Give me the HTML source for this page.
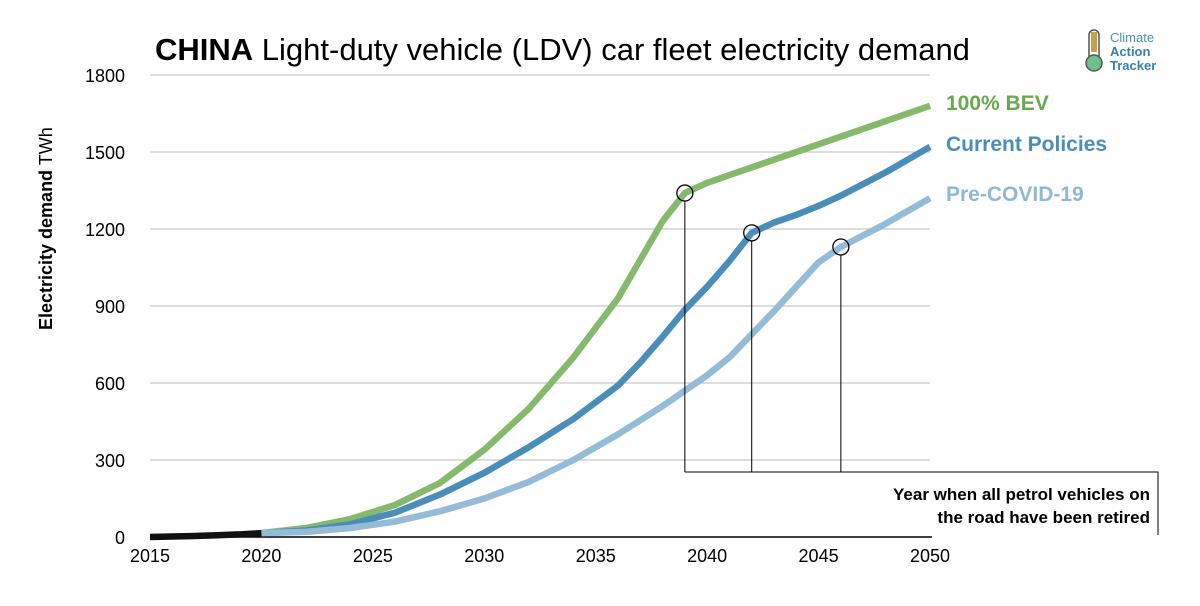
<!DOCTYPE html>
<html><head><meta charset="utf-8"><style>
body{margin:0;background:#fff;font-family:"Liberation Sans","DejaVu Sans",sans-serif}
</style></head><body>
<svg id="chart" width="1200" height="601" viewBox="0 0 1200 601" xmlns="http://www.w3.org/2000/svg">
<text x="155" y="60" font-size="31" fill="#000"><tspan font-weight="bold">CHINA</tspan> Light-duty vehicle (LDV) car fleet electricity demand</text>
<g>
<rect x="1089" y="30" width="10" height="36" rx="5" fill="#fff" stroke="#555" stroke-width="1.5"/>
<rect x="1091" y="32" width="6" height="20" fill="#c8a050"/>
<circle cx="1094" cy="63" r="8" fill="#6cc08a" stroke="#555" stroke-width="1.5"/>
<text x="1110" y="42" font-size="13" fill="#4a90c0">Climate</text>
<text x="1110" y="56" font-size="13" font-weight="bold" fill="#3a80b0">Action</text>
<text x="1110" y="70" font-size="13" font-weight="bold" fill="#3a80b0">Tracker</text>
</g>
<text transform="translate(52,330) rotate(-90)" font-size="18"><tspan font-weight="bold">Electricity demand</tspan> TWh</text>
<g id="grid"></g><g id="series"></g><g id="annot"></g>
<text x="1150" y="500" font-size="17" font-weight="bold" text-anchor="end">Year when all petrol vehicles on</text>
<text x="1150" y="523" font-size="17" font-weight="bold" text-anchor="end">the road have been retired</text>
</svg>
<script>
const years=[2020,2022,2024,2026,2028,2030,2032,2034,2036,2037,2038,2039,2040,2041,2042,2043,2044,2045,2046,2048,2050];
const bev=[15,35,70,125,210,340,500,700,930,1080,1230,1340,1380,1410,1440,1470,1500,1530,1560,1620,1680];
const cpol=[15,25,50,95,165,250,350,460,590,680,780,885,975,1075,1185,1225,1255,1290,1330,1420,1520];
const precovid=[15,20,35,60,100,150,215,300,400,455,510,570,630,700,790,880,975,1070,1130,1220,1320];
const histYears=[2015,2016,2017,2018,2019,2020];
const histVals=[0,2,4,7,10,15];
const yTicks=[0,300,600,900,1200,1500,1800];
const xTicks=[2015,2020,2025,2030,2035,2040,2045,2050];
const retireYears=[2039,2042,2046];
const retireVals=[1340,1185,1130];
const NS="http://www.w3.org/2000/svg";
const X=y=>150+(y-2015)*(780/35);
const Y=v=>537-v*(462/1800);
function mk(t,a,p){const e=document.createElementNS(NS,t);for(const k in a)e.setAttribute(k,a[k]);p.appendChild(e);return e;}
const grid=document.getElementById('grid');
yTicks.forEach(v=>{
 if(v>0){const l=mk('line',{x1:150,x2:930,y1:Y(v),y2:Y(v),stroke:'#bbb','stroke-width':1},grid);
 
 }
 const t=mk('text',{x:125,y:Y(v)+7,'font-size':18,'text-anchor':'end'},grid);t.textContent=v;
 
 
});
const ax=mk('line',{x1:150,x2:932,y1:537,y2:537,stroke:'#000','stroke-width':1.5},grid);


xTicks.forEach(y=>{const t=mk('text',{x:X(y),y:562,'font-size':18,'text-anchor':'middle'},grid);t.textContent=y;
 
 });
const ser=document.getElementById('series');
function line(xs,vs,col,name){const p=mk('polyline',{points:xs.map((y,i)=>X(y)+','+Y(vs[i])).join(' '),fill:'none',stroke:col,'stroke-width':6.5,'stroke-linejoin':'round'},ser);
 
 }
line(years,bev,'#85b96c','line-100-bev');
line(years,cpol,'#4a8db8','line-current-policies');
line(years,precovid,'#94bcd6','line-pre-covid');
line(histYears,histVals,'#111','line-historical');
const lab=[['100% BEV',bev,'#6aa84f',110],['Current Policies',cpol,'#4a8db8',151],['Pre-COVID-19',precovid,'#8fb8d4',201]];
lab.forEach(([s,vs,c,yy],i)=>{const t=mk('text',{x:946,y:yy,'font-size':21,'font-weight':'bold',fill:c},ser);t.textContent=s;
 
 });
const an=document.getElementById('annot');
retireYears.forEach((y,i)=>{
 const l=mk('line',{x1:X(y),x2:X(y),y1:Y(retireVals[i])+8,y2:472,stroke:'#000','stroke-width':1},an);
 
 
 const c=mk('circle',{cx:X(y),cy:Y(retireVals[i]),r:8,fill:'none',stroke:'#000','stroke-width':1.3},an);
 
 
});
const b=mk('polyline',{points:X(retireYears[0])+',472 1158,472 1158,535',fill:'none',stroke:'#000','stroke-width':1},an);


</script>
</body></html>
